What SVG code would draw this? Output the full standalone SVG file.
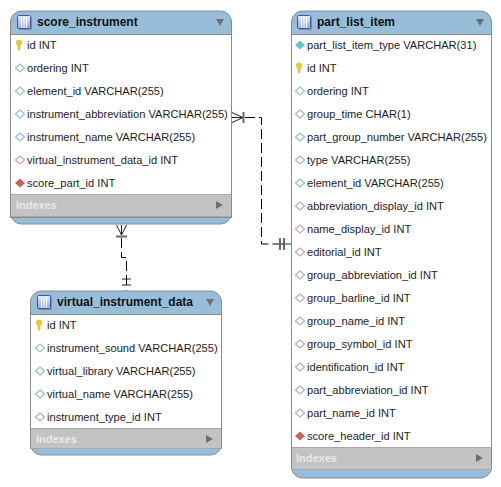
<svg xmlns="http://www.w3.org/2000/svg" width="501" height="487" viewBox="0 0 501 487">
<style>
text{font-family:"Liberation Sans",Arial,sans-serif;font-size:11.1px;fill:#1c1c1c}
.t{font-weight:bold;font-size:12px;fill:#111}
.ix{font-weight:bold;font-size:11px;fill:#e8e8e8}
.box{fill:#fff;stroke:#8a8a8a;stroke-width:1}
.hd{fill:#98bdd9}
.ft{fill:#c3c3c3}
.sep{stroke:#a8a8a8;stroke-width:1;fill:none}
.con{fill:none;stroke:#000;stroke-width:1;stroke-dasharray:10 4}
.sym{fill:none;stroke:#222;stroke-width:1}
.grey{fill:none;stroke:#666;stroke-width:2}
</style>
<defs>
<linearGradient id="ig" x1="0" y1="0" x2="0" y2="1"><stop offset="0" stop-color="#e6ecf8"/><stop offset="1" stop-color="#97a8dc"/></linearGradient>
<g id="icon"><rect x="0.500" y="0.500" width="13" height="13" rx="1" fill="url(#ig)" stroke="#3b56a8"/><path d="M4.500 2V13M7 2V13M9.500 2V13" stroke="#fff" fill="none"/><path d="M14.500 2V14.500H2" stroke="#8a8a8a" fill="none"/></g>
<path id="key" d="M-2.800 -2.500a2.800 2.600 0 0 1 5.600 0c0 1.800-1.300 2.200-1.600 3.300l-.4 4.200h-1.600l-.4-4.200c-.3-1.100-1.600-1.500-1.600-3.300z" fill="#f2c52e" stroke="#dcae20" stroke-width=".5"/>
<path id="d" d="M0 -4L4.500 0L0 4L-4.500 0Z" fill="#fff" stroke="#92c3c6" stroke-width="1.300"/>
<path id="dp" d="M0 -4L4.500 0L0 4L-4.500 0Z" fill="#fff" stroke="#cfa6a3" stroke-width="1.300"/>
<path id="dt" d="M0 -4.500L5 0L0 4.500L-5 0Z" fill="#62c6c8"/>
<path id="dr" d="M0 -4.500L5 0L0 4.500L-5 0Z" fill="#c9615e"/>
<path id="down" d="M0 0H8L4 7Z" fill="#6f6f6f"/>
<path id="right" d="M0 0L7 4L0 8Z" fill="#6f6f6f"/>
</defs>
<g id="connectors">
<path class="con" d="M245 117.500H261.500V244H283"/>
<path class="con" d="M121.500 238V257.500H126.500V288"/>
<path class="sym" d="M232 112.500L243 117.500M232 122.500L243 117.500M232 117.500H243"/>
<path class="grey" d="M243.500 112V123"/>
<path class="sym" d="M282 244H291"/>
<path class="grey" d="M280 238V250M284 238V250"/>
<path class="sym" d="M116.500 225L121.500 235L126.500 225M121.500 225V235"/>
<path class="grey" d="M116 236.500H127"/>
<path class="sym" d="M122 279H131M122 285H131M126.500 290V291"/>
</g>
<g id="score_instrument">
<path class="hd" d="M10.500 213V22a11 11 0 0 1 11-11H220.500a11 11 0 0 1 11 11V213a11 11 0 0 1-11 11H21.500a11 11 0 0 1-11-11Z" stroke="#8a8a8a" stroke-width="1"/>
<rect class="box" x="10.500" y="34.500" width="221" height="183"/>
<rect class="ft" x="11" y="195" width="220" height="22"/>
<path class="sep" d="M11 194.500H231M11 216.500H231"/>
<use href="#icon" x="17" y="15"/><text class="t" x="37" y="26">score_instrument</text><use href="#down" x="216" y="19"/>
<use href="#key" x="19" y="45"/><text x="27" y="49">id INT</text>
<use href="#d" x="20" y="68"/><text x="27" y="72">ordering INT</text>
<use href="#d" x="20" y="91"/><text x="27" y="95">element_id VARCHAR(255)</text>
<use href="#d" x="20" y="114"/><text x="27" y="118">instrument_abbreviation VARCHAR(255)</text>
<use href="#d" x="20" y="137"/><text x="27" y="141">instrument_name VARCHAR(255)</text>
<use href="#dp" x="20" y="160"/><text x="27" y="164">virtual_instrument_data_id INT</text>
<use href="#dr" x="20" y="183"/><text x="27" y="187">score_part_id INT</text>
<text class="ix" x="16" y="209">Indexes</text><use href="#right" x="216" y="201"/>
</g>
<g id="virtual_instrument_data">
<path class="hd" d="M30.500 444V302a11 11 0 0 1 11-11H210.500a11 11 0 0 1 11 11V444a11 11 0 0 1-11 11H41.500a11 11 0 0 1-11-11Z" stroke="#8a8a8a" stroke-width="1"/>
<rect class="box" x="30.500" y="314.500" width="191" height="134"/>
<rect class="ft" x="31" y="429" width="190" height="19"/>
<path class="sep" d="M31 428.500H221M31 448.500H221"/>
<use href="#icon" x="37" y="295"/><text class="t" x="57" y="306">virtual_instrument_data</text><use href="#down" x="206" y="299"/>
<use href="#key" x="39" y="325"/><text x="47" y="329">id INT</text>
<use href="#d" x="40" y="348"/><text x="47" y="352">instrument_sound VARCHAR(255)</text>
<use href="#d" x="40" y="371"/><text x="47" y="375">virtual_library VARCHAR(255)</text>
<use href="#d" x="40" y="394"/><text x="47" y="398">virtual_name VARCHAR(255)</text>
<use href="#dp" x="40" y="417"/><text x="47" y="421">instrument_type_id INT</text>
<text class="ix" x="36" y="443">Indexes</text><use href="#right" x="206" y="435"/>
</g>
<g id="part_list_item">
<path class="hd" d="M291.500 467V22a11 11 0 0 1 11-11H480.500a11 11 0 0 1 11 11V467a11 11 0 0 1-11 11H302.500a11 11 0 0 1-11-11Z" stroke="#8a8a8a" stroke-width="1"/>
<rect class="box" x="291.500" y="34.500" width="200" height="435"/>
<rect class="ft" x="292" y="448" width="199" height="21"/>
<path class="sep" d="M292 447.500H491M292 469.500H491"/>
<use href="#icon" x="297" y="15"/><text class="t" x="317" y="26">part_list_item</text><use href="#down" x="476" y="19"/>
<use href="#dt" x="300" y="45"/><text x="307" y="49">part_list_item_type VARCHAR(31)</text>
<use href="#key" x="299" y="68"/><text x="307" y="72">id INT</text>
<use href="#d" x="300" y="91"/><text x="307" y="95">ordering INT</text>
<use href="#d" x="300" y="114"/><text x="307" y="118">group_time CHAR(1)</text>
<use href="#d" x="300" y="137"/><text x="307" y="141">part_group_number VARCHAR(255)</text>
<use href="#d" x="300" y="160"/><text x="307" y="164">type VARCHAR(255)</text>
<use href="#d" x="300" y="183"/><text x="307" y="187">element_id VARCHAR(255)</text>
<use href="#dp" x="300" y="206"/><text x="307" y="210">abbreviation_display_id INT</text>
<use href="#dp" x="300" y="229"/><text x="307" y="233">name_display_id INT</text>
<use href="#dp" x="300" y="252"/><text x="307" y="256">editorial_id INT</text>
<use href="#dp" x="300" y="275"/><text x="307" y="279">group_abbreviation_id INT</text>
<use href="#dp" x="300" y="298"/><text x="307" y="302">group_barline_id INT</text>
<use href="#dp" x="300" y="321"/><text x="307" y="325">group_name_id INT</text>
<use href="#dp" x="300" y="344"/><text x="307" y="348">group_symbol_id INT</text>
<use href="#dp" x="300" y="367"/><text x="307" y="371">identification_id INT</text>
<use href="#dp" x="300" y="390"/><text x="307" y="394">part_abbreviation_id INT</text>
<use href="#dp" x="300" y="413"/><text x="307" y="417">part_name_id INT</text>
<use href="#dr" x="300" y="436"/><text x="307" y="440">score_header_id INT</text>
<text class="ix" x="296" y="462">Indexes</text><use href="#right" x="476" y="454"/>
</g>
</svg>
